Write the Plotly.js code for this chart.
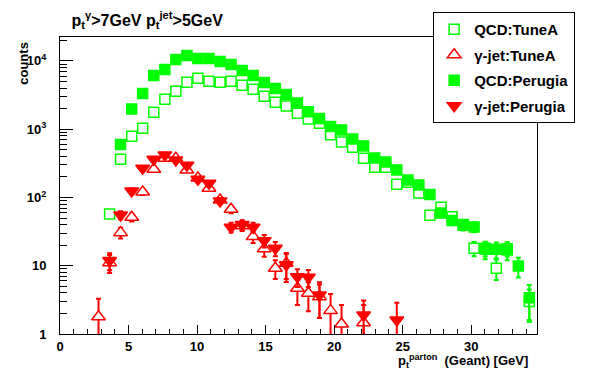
<!DOCTYPE html>
<html><head><meta charset="utf-8">
<script src="https://cdn.plot.ly/plotly-3.0.1.min.js"></script>
<style>html,body{margin:0;padding:0;background:#fff}</style>
</head><body><div id="chart" style="width:596px;height:372px"></div>
<script>
const binCenters = [2.81, 3.62, 4.42, 5.23, 6.03, 6.84, 7.65, 8.45, 9.26, 10.06, 10.87, 11.68, 12.48, 13.29, 14.09, 14.90, 15.71, 16.51, 17.32, 18.12, 18.93, 19.74, 20.54, 21.35, 22.15, 22.96, 23.77, 24.57, 25.38, 26.18, 26.99, 27.80, 28.60, 29.41, 30.21, 31.02, 31.83, 32.63, 33.44, 34.24];

const qcdTuneA = [null, 57, 363, 788, 1033, 1771, 2746, 3600, 4875, 5575, 5036, 4875, 5036, 4400, 3850, 3040, 2483, 2193, 1714, 1413, 1222, 832, 650, 544, 375, 277, 277, 156, 167, 116, 55, 72, 52, 39, 18, 18, 9.2, 17.8, null, 3.0];
const qcdTuneAErr = [null, 7.5, 19, 28, 32, 42, 52, 60, 70, 75, 71, 70, 71, 66, 62, 55, 50, 47, 41, 38, 35, 29, 25, 23, 19, 17, 17, 12.5, 13, 11, 7.4, 8.5, 7.2, 6.2, 4.2, 4.3, 3, 4.2, null, 1.5];

const gammaTuneA = [1.79, 11.1, 30.5, 51.3, 120, 259, 375, 375, 253, 193, 136, 92, 67, 38.5, 26.7, 17.7, 9.2, 10.9, 4.67, 3.95, 3.52, 2.2, 1.40, null, 1.46, null, null, null, null, null, null, null, null, null, null, null, null, null, null, null];
const gammaTuneAErr = [1.5, 3.3, 5.5, 7, 11, 16, 19, 19, 16, 14, 12, 9.6, 8.2, 6.2, 5.2, 4.2, 2.8, 4.5, 2.0, 1.8, 1.8, 1.65, 1.26, null, 1.2, null, null, null, null, null, null, null, null, null, null, null, null, null, null, null];

const qcdPerugia = [null, null, 594, 1981, 3320, 6090, 7460, 10440, 11960, 10810, 10810, 9770, 8830, 7210, 6090, 4810, 3930, 3210, 2427, 1807, 1429, 1091, 975, 719, 569, 379, 331, 253, 180, 152, 110, 59, 46, 40, 37, 17.4, 17.4, 17.0, 9.9, 3.4];
const qcdPerugiaErr = [null, null, 24, 44, 58, 78, 86, 102, 109, 104, 104, 99, 94, 85, 78, 69, 63, 57, 49, 43, 38, 33, 31, 27, 24, 19.5, 18, 16, 13.4, 12.2, 10.5, 7.7, 6.8, 6.3, 6.1, 5, 4.5, 5, 3.2, 1.8];

const gammaPerugia = [null, 11.9, 55.4, 124.5, 268, 363, 420, 354, 297, 185, 161, 89, 36.6, 40, 36.6, 23.3, 18.0, 10.3, 6.9, 6.77, 3.73, null, null, null, 1.90, null, null, 1.60, null, null, null, null, null, null, null, null, null, null, null, null];
const gammaPerugiaErr = [null, 3.3, 7.4, 11, 16, 19, 20, 19, 17, 14, 13, 9.4, 6, 6.3, 6, 4.8, 4.2, 4.5, 2.0, 1.9, 2.0, null, null, null, 1.2, null, null, 1.27, null, null, null, null, null, null, null, null, null, null, null, null];

const seriesNames = ['QCD:TuneA', '\u03b3-jet:TuneA', 'QCD:Perugia', '\u03b3-jet:Perugia'];
const xTickVals = [0, 5, 10, 15, 20, 25, 30];
const yTickVals = [1, 10, 100, 1000, 10000];
const yTickText = ['1', '10', '10<sup>2</sup>', '10<sup>3</sup>', '10<sup>4</sup>'];
const yMinorVals = [2,3,4,5,6,7,8,9,20,30,40,50,60,70,80,90,200,300,400,500,600,700,800,900,2000,3000,4000,5000,6000,7000,8000,9000,20000];

const GREEN = '#00ff00', RED = '#ff0000';
const FONT = 'Liberation Sans, Arial, Helvetica, sans-serif';

function trace(name, y, err, color, fill, symbol, size, group) {
  return {
    type: 'scatter', mode: 'markers', name: name, x: binCenters, y: y,
    legendgroup: group,
    marker: {symbol: symbol, size: size, color: fill, line: {color: color, width: 1.5}},
    error_y: {type: 'data', array: err, visible: true, color: color, thickness: 2, width: 2.5}
  };
}

const data = [
  trace(seriesNames[0], qcdTuneA, qcdTuneAErr, GREEN, '#ffffff', 'square', 10, 'a'),
  trace(seriesNames[1], gammaTuneA, gammaTuneAErr, RED, '#ffffff', 'triangle-up', 12, 'b'),
  trace(seriesNames[2], qcdPerugia, qcdPerugiaErr, GREEN, GREEN, 'square', 10, 'c'),
  trace(seriesNames[3], gammaPerugia, gammaPerugiaErr, RED, RED, 'triangle-down', 12, 'd')
];

const layout = {
  width: 596, height: 372,
  margin: {l: 60, r: 59, t: 37, b: 38, pad: 0},
  paper_bgcolor: '#fff', plot_bgcolor: '#fff',
  font: {family: FONT, size: 13, color: '#000', weight: 'bold'},
  title: {
    text: 'p<sub>t</sub><sup>\u03b3</sup>&gt;7GeV p<sub>t</sub><sup>jet</sup>&gt;5GeV',
    font: {family: FONT, size: 16, color: '#000', weight: 'bold'},
    x: 0.12, xref: 'container', xanchor: 'left',
    y: 0.945, yref: 'container', yanchor: 'middle'
  },
  xaxis: {
    range: [0, 34.8], showgrid: false, zeroline: false,
    showline: true, linecolor: '#000', linewidth: 1, mirror: true,
    ticks: 'inside', ticklen: 9, tickwidth: 1, tickcolor: '#000',
    tickmode: 'array', tickvals: xTickVals,
    tickfont: {family: FONT, size: 13, color: '#000', weight: 'bold'},
    minor: {ticks: 'inside', ticklen: 5, tickwidth: 1, tickcolor: '#000', dtick: 1, tick0: 0, showgrid: false}
  },
  yaxis: {
    type: 'log', range: [0, 4.35], showgrid: false, zeroline: false,
    showline: true, linecolor: '#000', linewidth: 1, mirror: true,
    ticks: 'inside', ticklen: 13, tickwidth: 1, tickcolor: '#000',
    tickmode: 'array', tickvals: yTickVals, ticktext: yTickText,
    ticklabelstandoff: 10,
    tickfont: {family: FONT, size: 13, color: '#000', weight: 'bold'},
    minor: {ticks: 'inside', ticklen: 7, tickwidth: 1, tickcolor: '#000', tickmode: 'array', tickvals: yMinorVals, showgrid: false}
  },
  showlegend: true,
  legend: {
    x: 1.08, xanchor: 'right', y: 1.084, yanchor: 'top',
    bgcolor: '#fff', bordercolor: '#000', borderwidth: 1,
    font: {family: FONT, size: 15, color: '#000', weight: 'bold'},
    traceorder: 'grouped', tracegroupgap: 3
  },
  annotations: [
    {text: 'counts', textangle: -90, xref: 'paper', yref: 'paper',
     x: -0.077, y: 0.99, xanchor: 'center', yanchor: 'top', showarrow: false,
     font: {family: FONT, size: 13, color: '#000', weight: 'bold'}},
    {text: 'p<sub>t</sub><sup>parton</sup>  (Geant) [GeV]', xref: 'paper', yref: 'paper',
     x: 0.986, y: -0.092, xanchor: 'right', yanchor: 'middle', showarrow: false,
     font: {family: FONT, size: 13, color: '#000', weight: 'bold'}}
  ]
};

Plotly.newPlot('chart', data, layout, {displayModeBar: false, staticPlot: true});
</script>
</body></html>
